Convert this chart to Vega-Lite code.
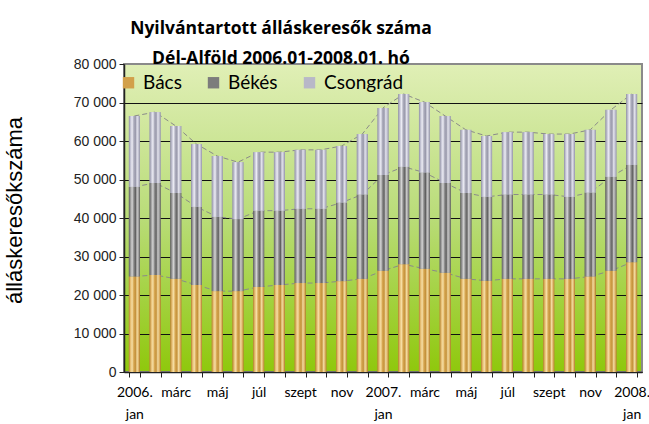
{
  "$schema": "https://vega.github.io/schema/vega-lite/v6.json",
  "width": 518,
  "height": 308,
  "autosize": "none",
  "padding": {"left": 124, "top": 64, "right": 7, "bottom": 52},
  "background": "white",
  "title": {
    "text": ["Nyilvántartott álláskeresők száma", "Dél-Alföld  2006.01-2008.01. hó"],
    "font": "Open Sans",
    "fontSize": 17.5,
    "fontWeight": "bold",
    "color": "#000000",
    "anchor": "middle",
    "frame": "group",
    "dx": -102,
    "offset": -28,
    "lineHeight": 30,
    "baseline": "bottom"
  },
  "config": {
    "view": {
      "stroke": "#8a8a8a",
      "strokeWidth": 2,
      "fill": {
        "gradient": "linear",
        "x1": 0, "y1": 0, "x2": 0, "y2": 1,
        "stops": [
          {"offset": 0, "color": "#e0efb6"},
          {"offset": 0.5, "color": "#b9dc78"},
          {"offset": 1, "color": "#8fc80c"}
        ]
      }
    }
  },
  "data": {
    "values": [
      {"m": "2006-01", "s": "Bács", "o": 1, "v": 24800}, {"m": "2006-01", "s": "Békés", "o": 2, "v": 23300}, {"m": "2006-01", "s": "Csongrád", "o": 3, "v": 18400},
      {"m": "2006-02", "s": "Bács", "o": 1, "v": 25200}, {"m": "2006-02", "s": "Békés", "o": 2, "v": 23900}, {"m": "2006-02", "s": "Csongrád", "o": 3, "v": 18400},
      {"m": "2006-03", "s": "Bács", "o": 1, "v": 24200}, {"m": "2006-03", "s": "Békés", "o": 2, "v": 22300}, {"m": "2006-03", "s": "Csongrád", "o": 3, "v": 17400},
      {"m": "2006-04", "s": "Bács", "o": 1, "v": 22600}, {"m": "2006-04", "s": "Békés", "o": 2, "v": 20300}, {"m": "2006-04", "s": "Csongrád", "o": 3, "v": 16300},
      {"m": "2006-05", "s": "Bács", "o": 1, "v": 21000}, {"m": "2006-05", "s": "Békés", "o": 2, "v": 19300}, {"m": "2006-05", "s": "Csongrád", "o": 3, "v": 15800},
      {"m": "2006-06", "s": "Bács", "o": 1, "v": 21000}, {"m": "2006-06", "s": "Békés", "o": 2, "v": 18700}, {"m": "2006-06", "s": "Csongrád", "o": 3, "v": 14800},
      {"m": "2006-07", "s": "Bács", "o": 1, "v": 22100}, {"m": "2006-07", "s": "Békés", "o": 2, "v": 19800}, {"m": "2006-07", "s": "Csongrád", "o": 3, "v": 15200},
      {"m": "2006-08", "s": "Bács", "o": 1, "v": 22600}, {"m": "2006-08", "s": "Békés", "o": 2, "v": 19300}, {"m": "2006-08", "s": "Csongrád", "o": 3, "v": 15200},
      {"m": "2006-09", "s": "Bács", "o": 1, "v": 23100}, {"m": "2006-09", "s": "Békés", "o": 2, "v": 19300}, {"m": "2006-09", "s": "Csongrád", "o": 3, "v": 15300},
      {"m": "2006-10", "s": "Bács", "o": 1, "v": 23100}, {"m": "2006-10", "s": "Békés", "o": 2, "v": 19300}, {"m": "2006-10", "s": "Csongrád", "o": 3, "v": 15300},
      {"m": "2006-11", "s": "Bács", "o": 1, "v": 23600}, {"m": "2006-11", "s": "Békés", "o": 2, "v": 20400}, {"m": "2006-11", "s": "Csongrád", "o": 3, "v": 14700},
      {"m": "2006-12", "s": "Bács", "o": 1, "v": 24200}, {"m": "2006-12", "s": "Békés", "o": 2, "v": 21900}, {"m": "2006-12", "s": "Csongrád", "o": 3, "v": 15700},
      {"m": "2007-01", "s": "Bács", "o": 1, "v": 26300}, {"m": "2007-01", "s": "Békés", "o": 2, "v": 24900}, {"m": "2007-01", "s": "Csongrád", "o": 3, "v": 17400},
      {"m": "2007-02", "s": "Bács", "o": 1, "v": 28000}, {"m": "2007-02", "s": "Békés", "o": 2, "v": 25300}, {"m": "2007-02", "s": "Csongrád", "o": 3, "v": 18900},
      {"m": "2007-03", "s": "Bács", "o": 1, "v": 26800}, {"m": "2007-03", "s": "Békés", "o": 2, "v": 25000}, {"m": "2007-03", "s": "Csongrád", "o": 3, "v": 18300},
      {"m": "2007-04", "s": "Bács", "o": 1, "v": 25800}, {"m": "2007-04", "s": "Békés", "o": 2, "v": 23300}, {"m": "2007-04", "s": "Csongrád", "o": 3, "v": 17400},
      {"m": "2007-05", "s": "Bács", "o": 1, "v": 24200}, {"m": "2007-05", "s": "Békés", "o": 2, "v": 22300}, {"m": "2007-05", "s": "Csongrád", "o": 3, "v": 16400},
      {"m": "2007-06", "s": "Bács", "o": 1, "v": 23700}, {"m": "2007-06", "s": "Békés", "o": 2, "v": 21800}, {"m": "2007-06", "s": "Csongrád", "o": 3, "v": 15800},
      {"m": "2007-07", "s": "Bács", "o": 1, "v": 24200}, {"m": "2007-07", "s": "Békés", "o": 2, "v": 21900}, {"m": "2007-07", "s": "Csongrád", "o": 3, "v": 16200},
      {"m": "2007-08", "s": "Bács", "o": 1, "v": 24200}, {"m": "2007-08", "s": "Békés", "o": 2, "v": 21900}, {"m": "2007-08", "s": "Csongrád", "o": 3, "v": 16200},
      {"m": "2007-09", "s": "Bács", "o": 1, "v": 24200}, {"m": "2007-09", "s": "Békés", "o": 2, "v": 21900}, {"m": "2007-09", "s": "Csongrád", "o": 3, "v": 15700},
      {"m": "2007-10", "s": "Bács", "o": 1, "v": 24200}, {"m": "2007-10", "s": "Békés", "o": 2, "v": 21300}, {"m": "2007-10", "s": "Csongrád", "o": 3, "v": 16300},
      {"m": "2007-11", "s": "Bács", "o": 1, "v": 24800}, {"m": "2007-11", "s": "Békés", "o": 2, "v": 21800}, {"m": "2007-11", "s": "Csongrád", "o": 3, "v": 16300},
      {"m": "2007-12", "s": "Bács", "o": 1, "v": 26300}, {"m": "2007-12", "s": "Békés", "o": 2, "v": 24400}, {"m": "2007-12", "s": "Csongrád", "o": 3, "v": 17400},
      {"m": "2008-01", "s": "Bács", "o": 1, "v": 28500}, {"m": "2008-01", "s": "Békés", "o": 2, "v": 25300}, {"m": "2008-01", "s": "Csongrád", "o": 3, "v": 18400}
    ]
  },
  "transform": [
    {"stack": "v", "groupby": ["m"], "sort": [{"field": "o", "order": "ascending"}], "as": ["v0", "v1"]}
  ],
  "encoding": {
    "x": {
      "field": "m",
      "type": "ordinal",
      "sort": null,
      "scale": {"paddingInner": 0.47, "paddingOuter": 0.235},
      "axis": {
        "title": null,
        "labelAngle": 0,
        "tickBand": "extent",
        "tickSize": 5,
        "tickColor": "#222222",
        "domainColor": "#222222",
        "domainWidth": 1.5,
        "labelFont": "Lato",
        "labelFontSize": 14,
        "labelColor": "#000000",
        "labelPadding": 8,
        "labelLineHeight": 22,
        "labelOverlap": false,
        "labelBound": false,
        "labelExpr": "({'2006-01':['2006.','jan'],'2006-03':'márc','2006-05':'máj','2006-07':'júl','2006-09':'szept','2006-11':'nov','2007-01':['2007.','jan'],'2007-03':'márc','2007-05':'máj','2007-07':'júl','2007-09':'szept','2007-11':'nov','2008-01':['2008.','jan']})[datum.value] || ''"
      }
    },
    "y": {
      "field": "v0",
      "type": "quantitative",
      "scale": {"domain": [0, 80000]},
      "axis": {
        "values": [0, 10000, 20000, 30000, 40000, 50000, 60000, 70000, 80000],
        "labelExpr": "replace(format(datum.value, ','), ',', ' ')",
        "labelOverlap": false,
        "grid": true,
        "gridColor": {"condition": {"test": "datum.value >= 80000", "value": "#8a8a8a"}, "value": "#111111"},
        "gridWidth": 1,
        "gridOpacity": 1,
        "domainColor": "#222222",
        "domainWidth": 1.5,
        "tickColor": "#222222",
        "tickSize": 5,
        "labelFont": "Liberation Sans",
        "labelFontSize": 14,
        "labelColor": "#222222",
        "labelPadding": 3,
        "title": "álláskeresőkszáma",
        "titleFont": "Liberation Sans",
        "titleFontSize": 22,
        "titleFontWeight": "normal",
        "titleColor": "#000000",
        "titleX": -98,
        "titleY": 146,
        "titleAlign": "center",
        "titleAngle": -90
      }
    },
    "y2": {"field": "v1"}
  },
  "layer": [
    {
      "mark": {"type": "line", "stroke": "#8a8a8a", "strokeDash": [5, 3], "strokeWidth": 1},
      "encoding": {
        "y": {"field": "v1", "type": "quantitative", "scale": {"domain": [0, 80000]}},
        "y2": null,
        "detail": {"field": "s", "type": "nominal"}
      }
    },
    {
      "mark": {"type": "bar"},
      "encoding": {
        "color": {
          "field": "s",
          "type": "nominal",
          "scale": {"domain": ["Bács", "Békés", "Csongrád"], "range": ["#d2a04a", "#7c7c7c", "#b8b8c8"]},
          "legend": {
            "title": null,
            "orient": "none",
            "legendX": -5,
            "legendY": 9,
            "direction": "horizontal",
            "padding": 0,
            "labelFont": "Lato",
            "labelFontSize": 19,
            "labelColor": "#000000",
            "labelOffset": 5,
            "columnPadding": 22,
            "symbolType": "square",
            "symbolSize": 130,
            "symbolStrokeWidth": 0
          }
        }
      }
    },
    {
      "mark": {"type": "bar"},
      "encoding": {
        "fill": {
          "condition": [
            {"test": "datum.s === 'Bács'", "value": {"gradient": "linear", "x1": 0, "y1": 0, "x2": 1, "y2": 0, "stops": [
              {"offset": 0, "color": "#b0802c"}, {"offset": 0.15, "color": "#e6be74"}, {"offset": 0.3, "color": "#f6dea4"},
              {"offset": 0.45, "color": "#d6a650"}, {"offset": 0.6, "color": "#c4923c"}, {"offset": 0.75, "color": "#f2daa0"},
              {"offset": 0.9, "color": "#dcb062"}, {"offset": 1, "color": "#a87628"}]}},
            {"test": "datum.s === 'Békés'", "value": {"gradient": "linear", "x1": 0, "y1": 0, "x2": 1, "y2": 0, "stops": [
              {"offset": 0, "color": "#5c5c5c"}, {"offset": 0.15, "color": "#9c9c9c"}, {"offset": 0.3, "color": "#d4d4d4"},
              {"offset": 0.45, "color": "#8a8a8a"}, {"offset": 0.6, "color": "#606060"}, {"offset": 0.75, "color": "#c8c8c8"},
              {"offset": 0.9, "color": "#9a9a9a"}, {"offset": 1, "color": "#5a5a5a"}]}}
          ],
          "value": {"gradient": "linear", "x1": 0, "y1": 0, "x2": 1, "y2": 0, "stops": [
            {"offset": 0, "color": "#8e8ea0"}, {"offset": 0.15, "color": "#c4c4d4"}, {"offset": 0.3, "color": "#ececf4"},
            {"offset": 0.45, "color": "#acacbc"}, {"offset": 0.6, "color": "#9a9aac"}, {"offset": 0.75, "color": "#e2e2ec"},
            {"offset": 0.9, "color": "#bcbccc"}, {"offset": 1, "color": "#9090a2"}]}
        }
      }
    }
  ]
}
